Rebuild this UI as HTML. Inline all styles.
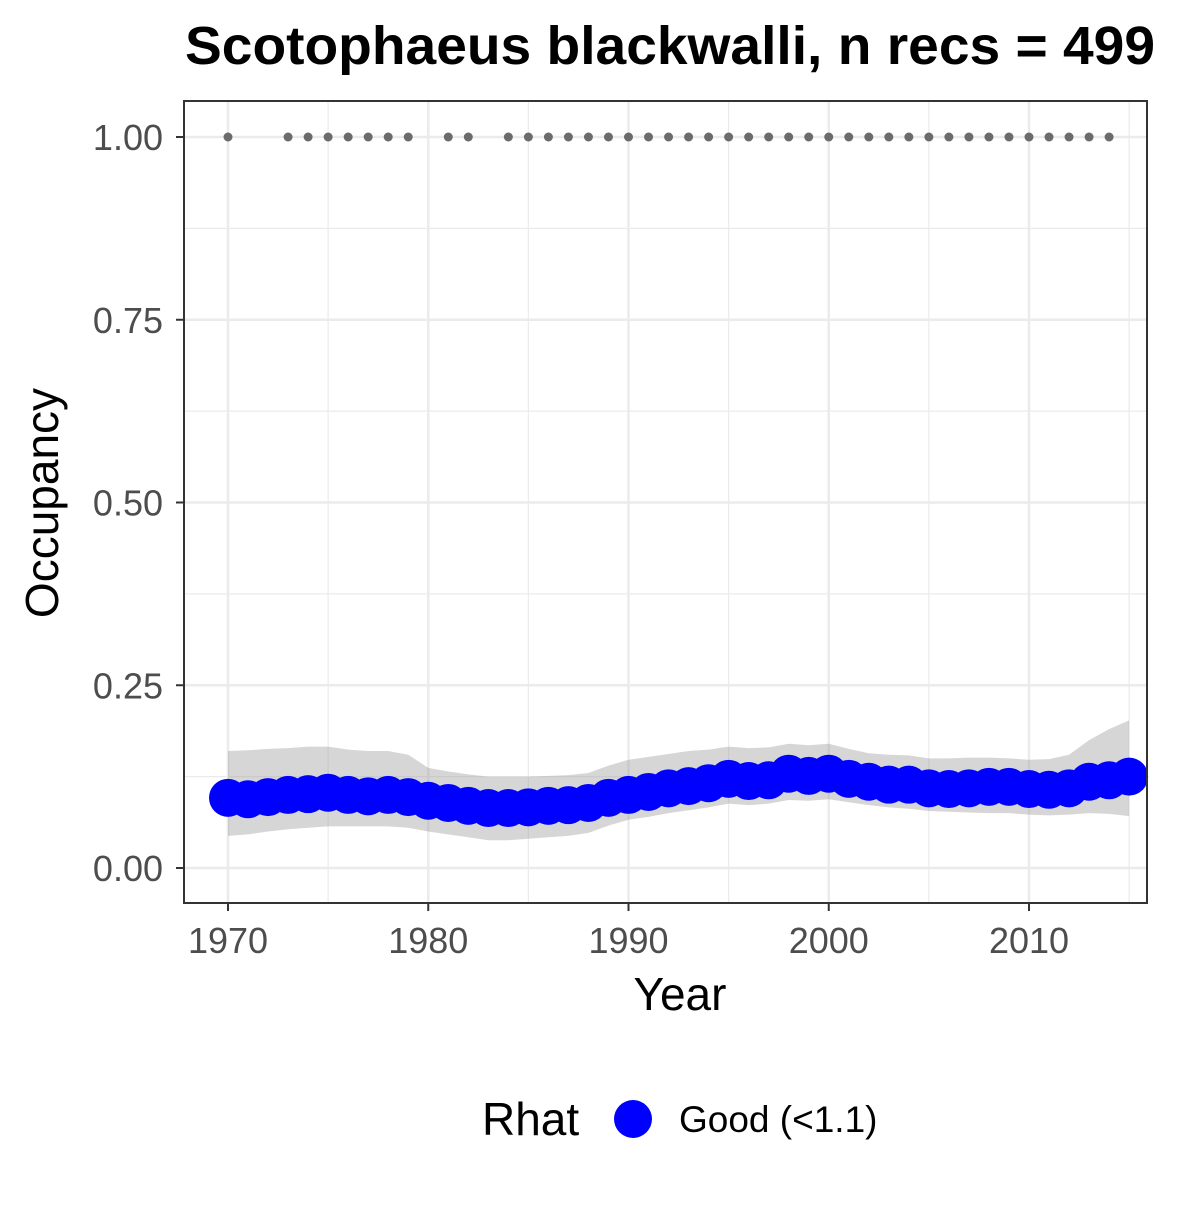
<!DOCTYPE html>
<html><head><meta charset="utf-8"><style>
body{margin:0;background:#fff;font-family:"Liberation Sans",sans-serif;}
</style></head><body>
<svg width="1200" height="1200" xmlns="http://www.w3.org/2000/svg" id="chart" font-family="Liberation Sans">
<rect width="1200" height="1200" fill="#fff"/>
<text x="670" y="64" text-anchor="middle" font-size="54" font-weight="bold" textLength="970" lengthAdjust="spacingAndGlyphs">Scotophaeus blackwalli, n recs = 499</text>
<g id="grid"></g>
<g id="band"></g>
<g id="recs"></g>
<g id="pts"></g>
<rect x="184" y="101" width="963" height="802" fill="none" stroke="#333" stroke-width="2"/>
<g id="axes"></g>
<text x="680" y="1010" text-anchor="middle" font-size="46">Year</text>
<text transform="translate(58,503) rotate(-90)" text-anchor="middle" font-size="46">Occupancy</text>
<g>
<text x="482" y="1135" font-size="46">Rhat</text>
<circle cx="633" cy="1119" r="19" fill="#0000ff"/>
<text x="679" y="1132" font-size="37">Good (&lt;1.1)</text>
</g>
</svg>
<script>
const years=[1970,1971,1972,1973,1974,1975,1976,1977,1978,1979,1980,1981,1982,1983,1984,1985,1986,1987,1988,1989,1990,1991,1992,1993,1994,1995,1996,1997,1998,1999,2000,2001,2002,2003,2004,2005,2006,2007,2008,2009,2010,2011,2012,2013,2014,2015];
const occ=[.096,.094,.097,.100,.101,.103,.100,.098,.100,.097,.092,.089,.085,.082,.082,.083,.085,.086,.089,.096,.100,.104,.109,.112,.116,.122,.119,.120,.129,.126,.129,.122,.118,.114,.114,.109,.108,.109,.111,.111,.108,.107,.109,.118,.120,.125];
const upper=[.160,.161,.163,.164,.166,.166,.162,.160,.160,.155,.137,.132,.128,.125,.125,.125,.126,.127,.130,.140,.148,.152,.156,.160,.162,.166,.164,.165,.170,.168,.170,.163,.157,.155,.154,.150,.150,.151,.151,.150,.148,.149,.155,.175,.190,.202];
const lower=[.044,.046,.050,.053,.055,.057,.057,.057,.057,.055,.050,.046,.042,.038,.038,.040,.042,.044,.048,.058,.066,.070,.075,.079,.083,.088,.086,.088,.093,.092,.094,.090,.086,.083,.081,.078,.077,.076,.075,.075,.073,.072,.073,.075,.074,.071];
const recYears=[1970,1973,1974,1975,1976,1977,1978,1979,1981,1982,1984,1985,1986,1987,1988,1989,1990,1991,1992,1993,1994,1995,1996,1997,1998,1999,2000,2001,2002,2003,2004,2005,2006,2007,2008,2009,2010,2011,2012,2013,2014];
const xTicks=[1970,1980,1990,2000,2010];
const yTicks=[0,0.25,0.5,0.75,1];
const yTickLabels=["0.00","0.25","0.50","0.75","1.00"];
const NS='http://www.w3.org/2000/svg';
const X=y=>228+(y-1970)*20.025;
const Y=v=>868-v*731;
function mk(tag,attrs,parent){const e=document.createElementNS(NS,tag);for(const k in attrs)e.setAttribute(k,attrs[k]);document.getElementById(parent).appendChild(e);return e;}
for(let i=0;i<yTicks.length;i++){
 const l=mk('line',{x1:184,x2:1147,y1:Y(yTicks[i]),y2:Y(yTicks[i]),stroke:'#ebebeb','stroke-width':2.5},'grid');
 
 
 if(i<yTicks.length-1){const v=(yTicks[i]+yTicks[i+1])/2;const m=mk('line',{x1:184,x2:1147,y1:Y(v),y2:Y(v),stroke:'#ebebeb','stroke-width':1.2},'grid');
 
 }
}
for(let i=0;i<xTicks.length;i++){
 const l=mk('line',{y1:101,y2:903,x1:X(xTicks[i]),x2:X(xTicks[i]),stroke:'#ebebeb','stroke-width':2.5},'grid');
 
 
 const m=mk('line',{y1:101,y2:903,x1:X(xTicks[i]+5),x2:X(xTicks[i]+5),stroke:'#ebebeb','stroke-width':1.2},'grid');
 
 
}
let d='';
years.forEach((y,i)=>{d+=(i?'L':'M')+X(y)+','+Y(upper[i]);});
for(let i=years.length-1;i>=0;i--)d+='L'+X(years[i])+','+Y(lower[i]);
const b=mk('path',{d:d+'Z',fill:'#999','fill-opacity':0.4},'band');


recYears.forEach(y=>{const c=mk('circle',{cx:X(y),cy:Y(1),r:4.5,fill:'#6b6b6b'},'recs');
 
 });
years.forEach((y,i)=>{const c=mk('circle',{cx:X(y),cy:Y(occ[i]),r:19,fill:'#0000ff'},'pts');
 
 });
yTicks.forEach((v,i)=>{
 const t=mk('line',{x1:176,x2:184,y1:Y(v),y2:Y(v),stroke:'#333','stroke-width':2},'axes');
 
 
 const tx=mk('text',{x:163,y:Y(v)+13,'text-anchor':'end','font-size':36,fill:'#4d4d4d'},'axes');
 tx.textContent=yTickLabels[i];
 
 
});
xTicks.forEach(v=>{
 const t=mk('line',{x1:X(v),x2:X(v),y1:903,y2:911,stroke:'#333','stroke-width':2},'axes');
 
 
 const tx=mk('text',{x:X(v),y:953,'text-anchor':'middle','font-size':36,fill:'#4d4d4d'},'axes');
 tx.textContent=v;
 
 
});
</script>
</body></html>
